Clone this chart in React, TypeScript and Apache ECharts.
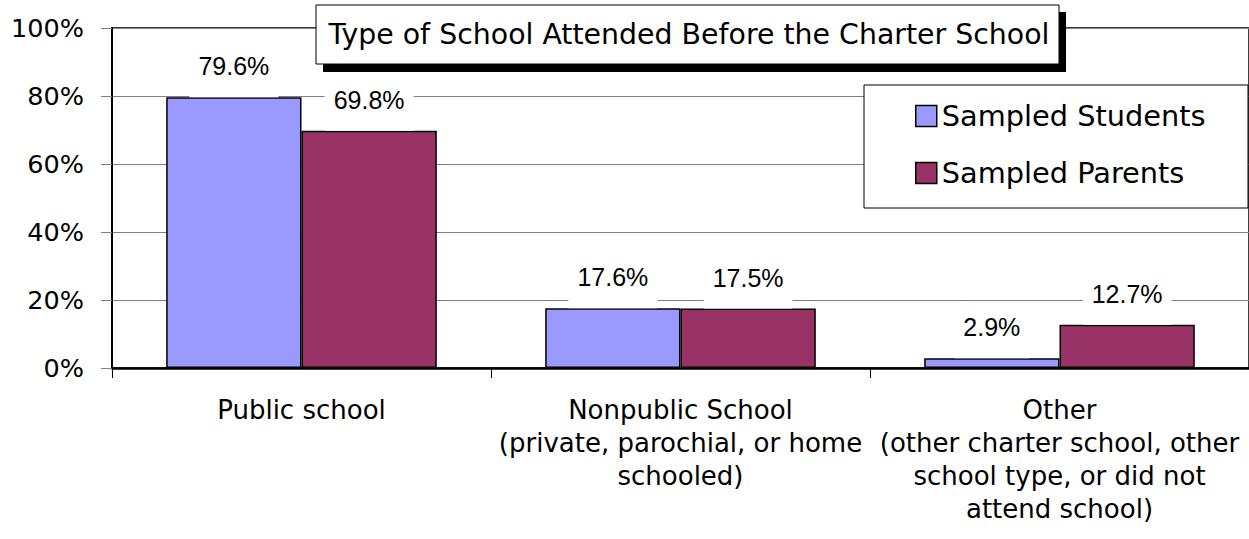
import React, { useEffect, useRef } from "react";
import * as echarts from "echarts";

// Categories (multi-line axis labels) and survey percentages
const categories = [
  "Public school",
  "Nonpublic School\n(private, parochial, or home\nschooled)",
  "Other\n(other charter school, other\nschool type, or did not\nattend school)",
];
const seriesNames = ["Sampled Students", "Sampled Parents"];
const studentValues = [79.6, 17.6, 2.9];
const parentValues = [69.8, 17.5, 12.7];
const yTickValues = [0, 20, 40, 60, 80, 100];
const chartTitle = "Type of School Attended Before the Charter School";

const STUDENT_COLOR = "#9999FF";
const PARENT_COLOR = "#993366";
const WIDE_FONT = "DejaVu Sans";
const LABEL_FONT = "Liberation Sans, Arial, sans-serif";

export default function App() {
  const ref = useRef<HTMLDivElement>(null);

  useEffect(() => {
    if (!ref.current) return;
    const chart = echarts.init(ref.current, null, { renderer: "svg" });

    const barLabel = {
      show: true,
      position: "top",
      distance: 0,
      formatter: "{c}%",
      fontFamily: LABEL_FONT,
      fontSize: 25,
      lineHeight: 30,
      color: "#000",
      backgroundColor: "#fff",
      padding: [2, 9, 16, 9],
    };

    chart.setOption({
      animation: false,
      backgroundColor: "#fff",
      grid: {
        left: 112,
        top: 28,
        width: 1140,
        height: 340,
        show: true,
        borderColor: "#000",
        borderWidth: 1.5,
        backgroundColor: "transparent",
      },
      legend: {
        data: seriesNames,
        orient: "vertical",
        left: 915,
        top: 99,
        padding: 0,
        itemGap: 23,
        itemWidth: 21,
        itemHeight: 21,
        icon: "rect",
        itemStyle: { borderColor: "#000", borderWidth: 1.5 },
        textStyle: {
          fontFamily: WIDE_FONT,
          fontSize: 28.8,
          lineHeight: 34,
          color: "#000",
        },
        z: 6,
      },
      xAxis: {
        type: "category",
        data: categories,
        axisLine: { lineStyle: { color: "#000", width: 2.5 } },
        axisTick: { show: true, length: 10, lineStyle: { color: "#000", width: 1 } },
        axisLabel: {
          interval: 0,
          margin: 25,
          fontFamily: WIDE_FONT,
          fontSize: 26,
          lineHeight: 33,
          color: "#000",
        },
      },
      yAxis: {
        type: "value",
        min: yTickValues[0],
        max: yTickValues[yTickValues.length - 1],
        interval: yTickValues[1] - yTickValues[0],
        axisLine: { show: true, lineStyle: { color: "#000", width: 2 } },
        axisTick: { show: true, length: 11, lineStyle: { color: "#808080", width: 1 } },
        splitLine: { show: true, lineStyle: { color: "#808080", width: 1 } },
        axisLabel: {
          margin: 28,
          formatter: "{value}%",
          fontFamily: WIDE_FONT,
          fontSize: 25.5,
          color: "#000",
        },
      },
      graphic: [
        // legend frame, drawn over the grid lines
        {
          type: "rect",
          z: 3,
          shape: { x: 864, y: 85, width: 384, height: 123 },
          style: { fill: "#fff", stroke: "#000", lineWidth: 1 },
        },
        // title box with a hard drop shadow
        {
          type: "rect",
          z: 10,
          shape: { x: 323, y: 12, width: 743, height: 60 },
          style: { fill: "#000" },
        },
        {
          type: "rect",
          z: 11,
          shape: { x: 316, y: 5, width: 743, height: 59 },
          style: { fill: "#fff", stroke: "#000", lineWidth: 1 },
        },
        {
          type: "text",
          z: 12,
          x: 689,
          y: 34,
          style: {
            text: chartTitle,
            fontFamily: WIDE_FONT,
            fontSize: 28.4,
            fill: "#000",
            textAlign: "center",
            textVerticalAlign: "middle",
          },
        },
      ],
      series: [
        {
          name: seriesNames[0],
          type: "bar",
          data: studentValues,
          barGap: "0%",
          barCategoryGap: "28.6%",
          itemStyle: { color: STUDENT_COLOR, borderColor: "#000", borderWidth: 1.5 },
          label: barLabel,
        },
        {
          name: seriesNames[1],
          type: "bar",
          data: parentValues,
          barGap: "0%",
          barCategoryGap: "28.6%",
          itemStyle: { color: PARENT_COLOR, borderColor: "#000", borderWidth: 1.5 },
          label: barLabel,
        },
      ],
    });

    return () => chart.dispose();
  }, []);

  return (
    <div
      ref={ref}
      style={{ position: "absolute", left: 0, top: 0, width: 1249, height: 539 }}
    />
  );
}
